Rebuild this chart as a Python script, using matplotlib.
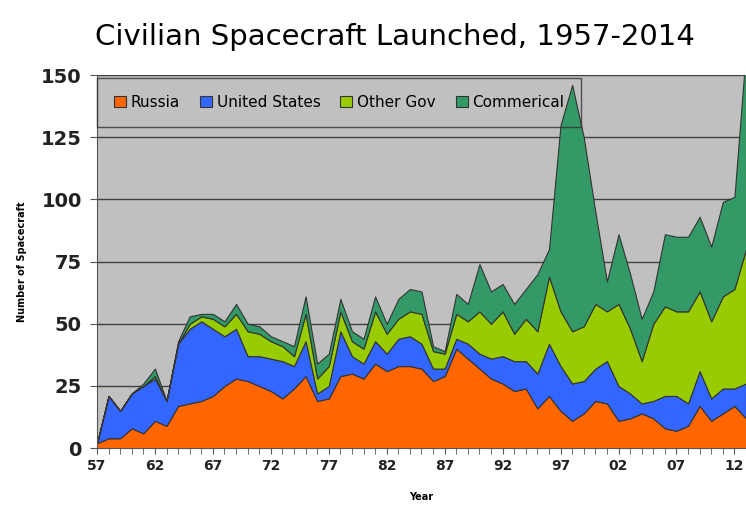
import numpy as np
import matplotlib.pyplot as plt
from matplotlib.ticker import MultipleLocator, FixedLocator

years = np.arange(1957, 2014)
russia = [2, 4, 4, 8, 6, 11, 9, 17, 18, 19,
          21, 25, 28, 27, 25, 23, 20, 24, 29, 19,
          20, 29, 30, 28, 34, 31, 33, 33, 32, 27,
          29, 40, 36, 32, 28, 26, 23, 24, 16, 21,
          15, 11, 14, 19, 18, 11, 12, 14, 12, 8,
          7, 9, 17, 11, 14, 17, 12]
united_states = [0, 17, 11, 14, 19, 17, 10, 25, 30, 32,
                 27, 20, 20, 10, 12, 13, 15, 9, 14, 3,
                 5, 18, 7, 6, 9, 7, 11, 12, 10, 5,
                 3, 4, 6, 6, 8, 11, 12, 11, 14, 21,
                 18, 15, 13, 13, 17, 14, 10, 4, 7, 13,
                 14, 9, 14, 9, 10, 7, 14]
other_gov = [0, 0, 0, 0, 0, 1, 0, 0, 2, 2,
             4, 4, 6, 10, 9, 7, 6, 4, 11, 6,
             8, 8, 6, 6, 12, 8, 8, 10, 12, 7,
             6, 10, 9, 17, 14, 18, 11, 17, 17, 27,
             22, 21, 22, 26, 20, 33, 26, 17, 31, 36,
             34, 37, 32, 31, 37, 40, 54]
commercial = [0, 0, 0, 0, 1, 3, 0, 1, 3, 1,
              2, 2, 4, 3, 3, 2, 2, 4, 7, 6,
              5, 5, 4, 4, 6, 4, 8, 9, 9, 2,
              1, 8, 7, 19, 13, 11, 12, 12, 23, 11,
              75, 99, 76, 37, 12, 28, 22, 17, 13, 29,
              30, 30, 30, 30, 38, 37, 80]
labels = ["Russia", "United States", "Other Gov", "Commerical"]
colors = ["#ff6600", "#3366ff", "#99cc00", "#339966"]

fig = plt.figure(figsize=(7.46, 5.07), dpi=100)
ax = fig.add_axes([0.130, 0.116, 0.870, 0.736])
ax.set_facecolor("#c0c0c0")

ax.stackplot(years, russia, united_states, other_gov, commercial,
             labels=labels, colors=colors, edgecolor="#333333", linewidth=0.8, zorder=2)

ax.set_xlim(1957, 2013)
ax.set_ylim(0, 150)
ax.yaxis.set_major_locator(MultipleLocator(25))
ax.grid(axis="y", color="#404040", linewidth=1.0, zorder=1)
ax.set_axisbelow(True)

major = list(range(1957, 2014, 5))
ax.xaxis.set_major_locator(FixedLocator(major))
ax.xaxis.set_minor_locator(MultipleLocator(1))
ax.set_xticklabels(["%02d" % (y % 100) for y in major], fontsize=10, fontweight="bold", color="#222222")
ax.tick_params(axis="x", which="both", direction="out", length=4, color="#555555")
ax.tick_params(axis="y", direction="out", length=5, labelsize=14, color="#555555", pad=6)
for t in ax.get_yticklabels():
    t.set_fontweight("bold")
    t.set_color("#222222")

for s in ["top", "right"]:
    ax.spines[s].set_visible(False)
ax.spines["left"].set_color("#555555")
ax.spines["bottom"].set_color("#555555")

ax.set_xlabel("Year", fontsize=7, fontweight="bold", labelpad=14)
ax.set_ylabel("Number of Spacecraft", fontsize=7, fontweight="bold", labelpad=10)

leg = ax.legend(loc="upper left", bbox_to_anchor=(0, 0.992), ncol=4, fontsize=11,
                frameon=True, fancybox=False, handlelength=0.8, handleheight=0.8,
                handletextpad=0.3, borderaxespad=0, borderpad=1.1, columnspacing=1.3)
leg.get_frame().set_facecolor("none")
leg.get_frame().set_edgecolor("#333333")
leg.get_frame().set_linewidth(1.0)

fig.suptitle("Civilian Spacecraft Launched, 1957-2014", x=0.53, y=0.955, fontsize=21)

fig.savefig("out.png", dpi=100)
